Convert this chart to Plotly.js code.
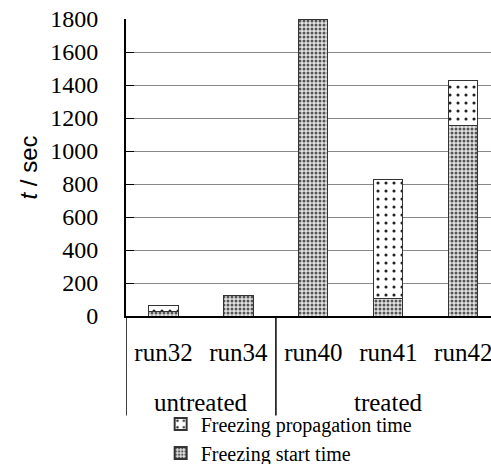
<!DOCTYPE html>
<html>
<head>
<meta charset="utf-8">
<script src="https://cdn.plot.ly/plotly-3.0.1.min.js"></script>
<style>html,body{margin:0;padding:0;background:#fff;}#chart{width:491px;height:464px;}</style>
</head>
<body>
<div id="chart"></div>
<script>
const runs = ["run32", "run34", "run40", "run41", "run42"];
const groups = ["untreated", "treated"];
const groupOfRun = ["untreated", "untreated", "treated", "treated", "treated"];
const startTime = [25, 125, 1800, 105, 1155];
const propagationTime = [40, 0, 0, 720, 270];
const yTicks = [0, 200, 400, 600, 800, 1000, 1200, 1400, 1600, 1800];

const FONT = "Liberation Serif";
const SANS = "Liberation Sans";

const traces = [
  {
    type: "bar", name: "Freezing start time", x: runs, y: startTime,
    marker: {color: "white", line: {color: "#333", width: 1},
      pattern: {shape: ".", fgcolor: "#555", bgcolor: "#e4e4e4", size: 4, solidity: 0.45}},
    cliponaxis: true
  },
  {
    type: "bar", name: "Freezing propagation time", x: runs, y: propagationTime,
    marker: {color: "white", line: {color: "#333", width: 1},
      pattern: {shape: ".", fgcolor: "#222", bgcolor: "white", size: 8, solidity: 0.12}}
  }
];

const annotations = [];
const shapes = [];
groups.forEach(g => {
  const idx = groupOfRun.map((v, i) => v === g ? i : -1).filter(i => i >= 0);
  const mid = (idx[0] + idx[idx.length - 1]) / 2;
  annotations.push({x: mid, y: -0.29, xref: "x", yref: "paper", text: g, showarrow: false,
    yanchor: "middle", font: {family: FONT, size: 25, color: "black"}});
  shapes.push({type: "line", xref: "x", yref: "paper", x0: idx[0] - 0.5, x1: idx[0] - 0.5,
    y0: 0, y1: -0.335, line: {color: "black", width: 1.5}});
});

const layout = {
  width: 491, height: 464,
  margin: {l: 126, r: 0, t: 19, b: 148, autoexpand: false},
  paper_bgcolor: "white", plot_bgcolor: "white",
  barmode: "stack", bargap: 0.61,
  font: {family: FONT, size: 24, color: "black"},
  xaxis: {type: "category", range: [-0.5, 4.37], showline: true, linecolor: "black", linewidth: 2,
    ticks: "", ticklabelstandoff: 13, tickfont: {family: FONT, size: 25}, showgrid: false, zeroline: false,
    automargin: false},
  yaxis: {range: [0, 1800], tickvals: yTicks, showline: true, linecolor: "black", linewidth: 2,
    ticks: "inside", ticklen: 8, tickcolor: "black", tickwidth: 1,
    gridcolor: "#888", gridwidth: 1, zeroline: false, automargin: false,
    tickfont: {family: FONT, size: 24}, ticklabelstandoff: 21,
    title: {text: "<i>t</i> / sec", font: {family: SANS, size: 24}, standoff: 6}},
  legend: {x: 0.095, y: -0.298, xanchor: "left", yanchor: "top", font: {family: FONT, size: 20},
    bgcolor: "rgba(0,0,0,0)", tracegroupgap: 0, itemsizing: "constant"},
  annotations: annotations,
  shapes: shapes
};

Plotly.newPlot("chart", traces, layout, {displayModeBar: false, staticPlot: true});
</script>
</body>
</html>
